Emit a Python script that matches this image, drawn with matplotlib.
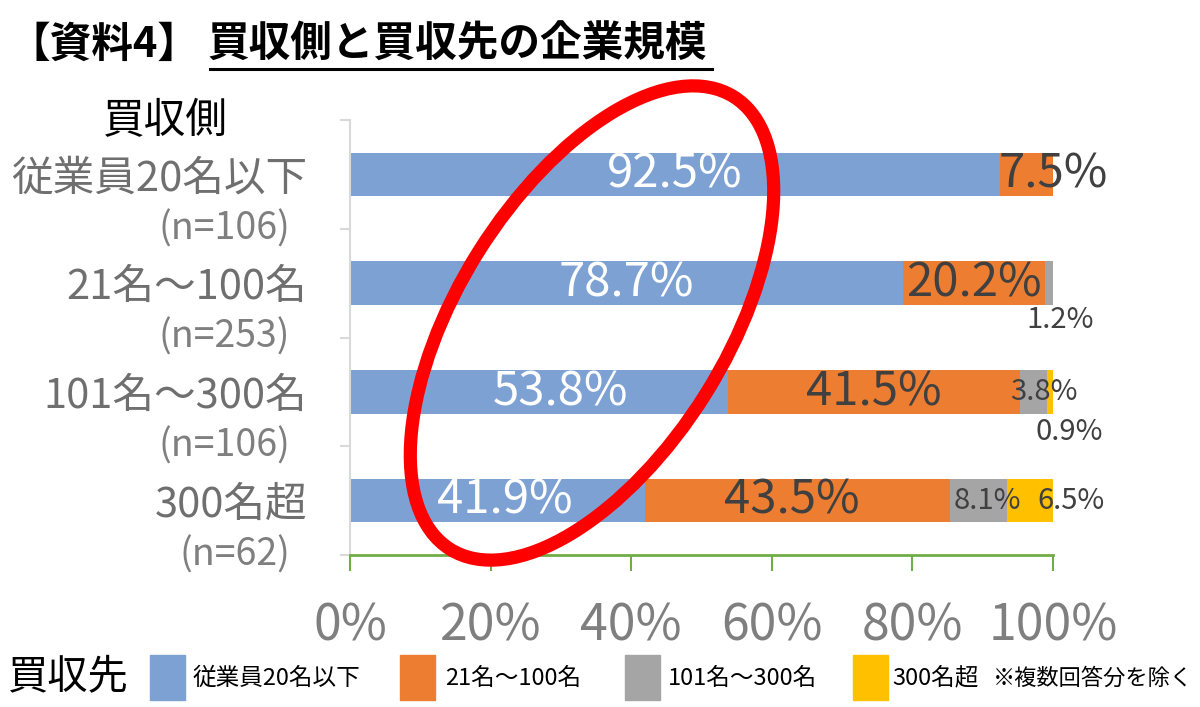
import matplotlib.pyplot as plt
from matplotlib.patches import Ellipse, Rectangle
from matplotlib.lines import Line2D

plt.rcParams['font.family'] = ['Noto Sans CJK JP', 'DejaVu Sans']

# buyer size (rows) and the target size split (series)
categories = ['従業員20名以下', '21名～100名', '101名～300名', '300名超']
sample_sizes = ['(n=106)', '(n=253)', '(n=106)', '(n=62)']
series_names = ['従業員20名以下', '21名～100名', '101名～300名', '300名超']
target_upto20 = [92.5, 78.7, 53.8, 41.9]
target_21_100 = [7.5, 20.2, 41.5, 43.5]
target_101_300 = [0.0, 1.2, 3.8, 8.1]
target_over300 = [0.0, 0.0, 0.9, 6.5]
x_ticks = [0, 20, 40, 60, 80, 100]

series = [target_upto20, target_21_100, target_101_300, target_over300]
colors = ['#7EA1D4', '#ED7D31', '#A5A5A5', '#FFC000']
gray = '#6F6F6F'
dark = '#404040'

# hand placed label nudges (pixels), like the moved labels in the original
nudges = {(0, 2): (21, 0), (1, 0): (27, 0), (0, 3): (8, 0), (1, 3): (-6, 0),
          (2, 1): (11, -37), (2, 2): (11, 0), (3, 2): (19, -40),
          (2, 3): (9, 0), (3, 3): (41, 0)}

W, H = 1200, 707
fig = plt.figure(figsize=(W / 100, H / 100), dpi=100)
ax = fig.add_axes([350 / W, (H - 555) / H, 703 / W, 435 / H])

rows = list(range(len(categories)))
left = [0.0] * len(rows)
for j, vals in enumerate(series):
    ax.barh(rows, vals, left=left, height=0.40, color=colors[j], zorder=2)
    for i, v in enumerate(vals):
        if v <= 0:
            continue
        dx, dy = nudges.get((j, i), (0, 0))
        ax.annotate(f'{v:.1f}%', (left[i] + v / 2, i), xytext=(dx, dy),
                    textcoords='offset pixels', ha='center', va='center',
                    fontsize=34 if j < 2 else 21,
                    color='white' if j == 0 else dark, zorder=3)
    left = [a + b for a, b in zip(left, vals)]

ax.set_xlim(0, 100)
ax.set_ylim(len(rows) - 0.5, -0.5)
ax.set_xticks(x_ticks)
ax.set_xticklabels([f'{t}%' for t in x_ticks])
ax.tick_params(axis='x', length=11.5, width=1.5, color='#70AD47',
               labelsize=36, labelcolor='#7F7F7F', pad=21)

ax.set_yticks(rows)
ax.set_yticklabels(categories)
ax.set_yticks([r + 0.5 for r in [-1] + rows], minor=True)
ax.tick_params(axis='y', which='major', length=0, pad=31, labelsize=30,
               labelcolor=gray)
ax.tick_params(axis='y', which='minor', length=7, width=1.5, color='#D9D9D9')

for s in ['top', 'right']:
    ax.spines[s].set_visible(False)
ax.spines['left'].set_color('#D9D9D9')
ax.spines['left'].set_linewidth(1.5)
ax.spines['bottom'].set_color('#70AD47')
ax.spines['bottom'].set_linewidth(2)

for i, n in enumerate(sample_sizes):
    ax.text(-0.085, i + 0.5, n, transform=ax.get_yaxis_transform(),
            ha='right', va='center', fontsize=27, color='#7F7F7F')

# overlay in pixel units for title, legend and the red circle
ov = fig.add_axes([0, 0, 1, 1], facecolor='none', zorder=5)
ov.set_xlim(0, W)
ov.set_ylim(0, H)
ov.axis('off')

def py(y):
    return H - y

ov.text(8, py(45), '【資料4】', fontsize=30, fontweight='bold', ha='left', va='center')
ov.text(208, py(45), '買収側と買収先の企業規模', fontsize=30, fontweight='bold',
        ha='left', va='center')
ov.add_line(Line2D([210, 712], [py(69), py(69)], color='black', lw=2.2))

ov.text(165, py(122), '買収側', fontsize=30, ha='center', va='center')

ov.add_patch(Ellipse((592, py(323)), 534, 268, angle=57.9, fill=False,
                     edgecolor='#FF0000', lw=9.5))

# legend
ov.text(8, py(678), '買収先', fontsize=29, ha='left', va='center')
sq_x = [150, 400, 625, 853]
tx_x = [192, 445, 668, 892]
for j, name in enumerate(series_names):
    ov.add_patch(Rectangle((sq_x[j], py(700)), 35, 45, color=colors[j]))
    ov.text(tx_x[j], py(678), name, fontsize=17, ha='left', va='center')
ov.text(993, py(678), '※複数回答分を除く', fontsize=16, ha='left', va='center')

fig.savefig('out.png', dpi=100)
